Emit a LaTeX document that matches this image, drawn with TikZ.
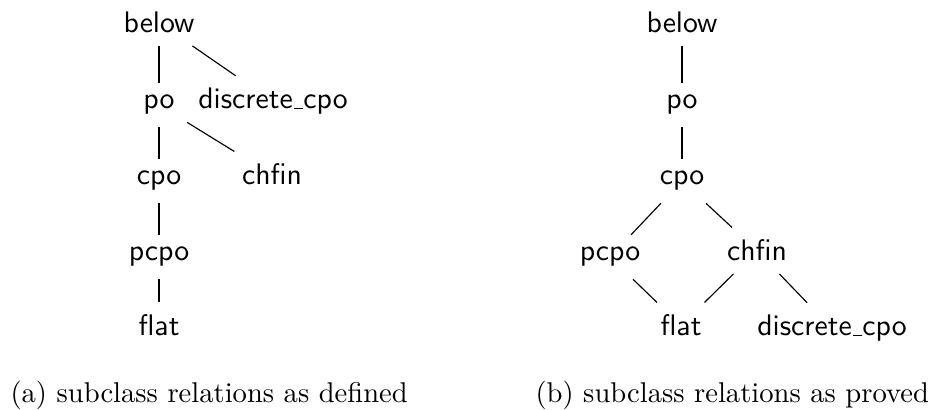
\documentclass[tikz,border=0pt]{standalone}
\newcommand{\uscore}{\leavevmode\kern.06em\vbox{\hrule width .3em}}

\begin{document}
\begin{tikzpicture} [x=0.3497pt, y=-0.3497pt,
	font = \fontsize{10.4}{12.5}\selectfont\sffamily,
	cls/.style = {anchor=base, inner sep=4.2pt},
	caption/.style = {anchor=base west, inner sep=0pt, font=\normalfont}]
\useasboundingbox (0,0) rectangle (935,410);

% (a) relations as defined:
\node [cls] (a-below) at (159,33) {below};
\node [cls] (a-po) at (159,109) {po\ };
\node [cls] (a-dcpo) at (273,109) {discrete\uscore cpo};
\node [cls] (a-cpo) at (159,185) {cpo};
\node [cls] (a-chfin) at (272,185) {chfin};
\node [cls] (a-pcpo) at (159,261) {pcpo};
\node [cls] (a-flat) at (159,336) {flat};

\draw (a-below) -- (a-po);
\draw (a-below) -- (a-dcpo);
\draw (a-po) -- (a-cpo);
\draw (a-po) -- (a-chfin);
\draw (a-cpo) -- (a-pcpo);
\draw (a-pcpo) -- (a-flat);

% (b) relations as proved:
\node [cls] (b-below) at (682,33) {below};
\node [cls] (b-po) at (682,109) {po};
\node [cls] (b-cpo) at (682,185) {cpo};
\node [cls] (b-pcpo) at (610,261) {pcpo};
\node [cls] (b-chfin) at (757,261) {chfin};
\node [cls] (b-flat) at (681,336) {flat};
\node [cls] (b-dcpo) at (832,336) {discrete\uscore cpo};

\draw (b-below) -- (b-po);
\draw (b-po) -- (b-cpo);
\draw (b-cpo) -- (b-pcpo);
\draw (b-cpo) -- (b-chfin);
\draw (b-pcpo) -- (b-flat);
\draw (b-chfin) -- (b-flat);
\draw (b-chfin) -- (b-dcpo);

% captions:
\node [caption] (cap-a) at (10,403) {(a) subclass relations as defined};
\node [caption] (cap-b) at (535,403) {(b) subclass relations as proved};
\end{tikzpicture}
\end{document}
